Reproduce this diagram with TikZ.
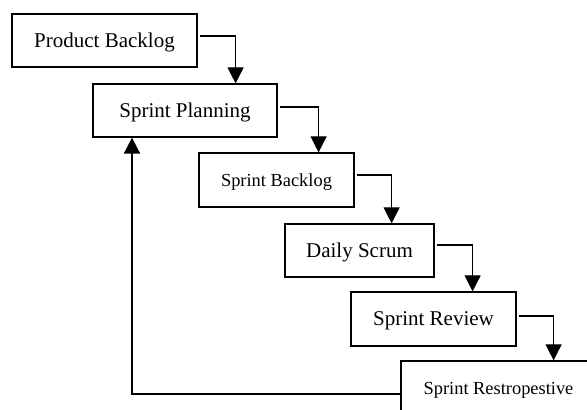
\documentclass[tikz,border=0pt]{standalone}
\usepackage{fontspec}
\setmainfont{Liberation Serif}
\usetikzlibrary{arrows.meta}
\begin{document}
\begin{tikzpicture}[x=1pt,y=-1pt,
  box/.style={draw,line width=1.2pt,minimum height=53pt,inner sep=0pt,text depth=0pt,font=\fontsize{21}{25}\selectfont},
  smallbox/.style={box,font=\fontsize{18.4}{22}\selectfont},
  hline/.style={line width=2pt},
  vline/.style={line width=0.8pt,-{Triangle[width=16pt,length=16pt]}},
  fline/.style={line width=1.6pt,-{Triangle[width=16pt,length=16pt]}}]
\useasboundingbox (0,0) rectangle (587,410);
\clip (0,0) rectangle (587,410);
\node[box,minimum width=185pt] (pb) at (104.5,40.5) {Product Backlog};
\node[box,minimum width=184pt] (sp) at (185,110.5) {Sprint Planning};
\node[smallbox,minimum width=155pt,minimum height=54pt] (sb) at (276.5,180) {Sprint Backlog};
\node[box,minimum width=149pt] (ds) at (359.5,250.5) {Daily Scrum};
\node[box,minimum width=165pt,minimum height=54pt] (sr) at (433.5,319) {Sprint Review};
\node[smallbox,minimum width=195pt,minimum height=54pt] (rt) at (498.5,388) {Sprint Restropestive};
% connectors
\draw[hline] ([xshift=2pt,yshift=4.5pt]pb.east) -- ++(36,0) coordinate (c1);
\draw[vline] (c1) -- (c1 |- sp.north);
\draw[hline] ([xshift=2pt,yshift=3.5pt]sp.east) -- ++(39,0) coordinate (c2);
\draw[vline] (c2) -- (c2 |- sb.north);
\draw[hline] ([xshift=2pt,yshift=5pt]sb.east) -- ++(35,0) coordinate (c3);
\draw[vline] (c3) -- (c3 |- ds.north);
\draw[hline] ([xshift=2pt,yshift=5.5pt]ds.east) -- ++(36,0) coordinate (c4);
\draw[vline] (c4) -- (c4 |- sr.north);
\draw[hline] ([xshift=2pt,yshift=3pt]sr.east) -- ++(35,0) coordinate (c5);
\draw[vline] (c5) -- (c5 |- rt.north);
% feedback
\coordinate (f1) at ([yshift=-6pt]rt.west);
\coordinate (f2) at (132,394);
\draw[fline] (f1) -- (f2) -- (f2 |- sp.south);
\end{tikzpicture}
\end{document}
